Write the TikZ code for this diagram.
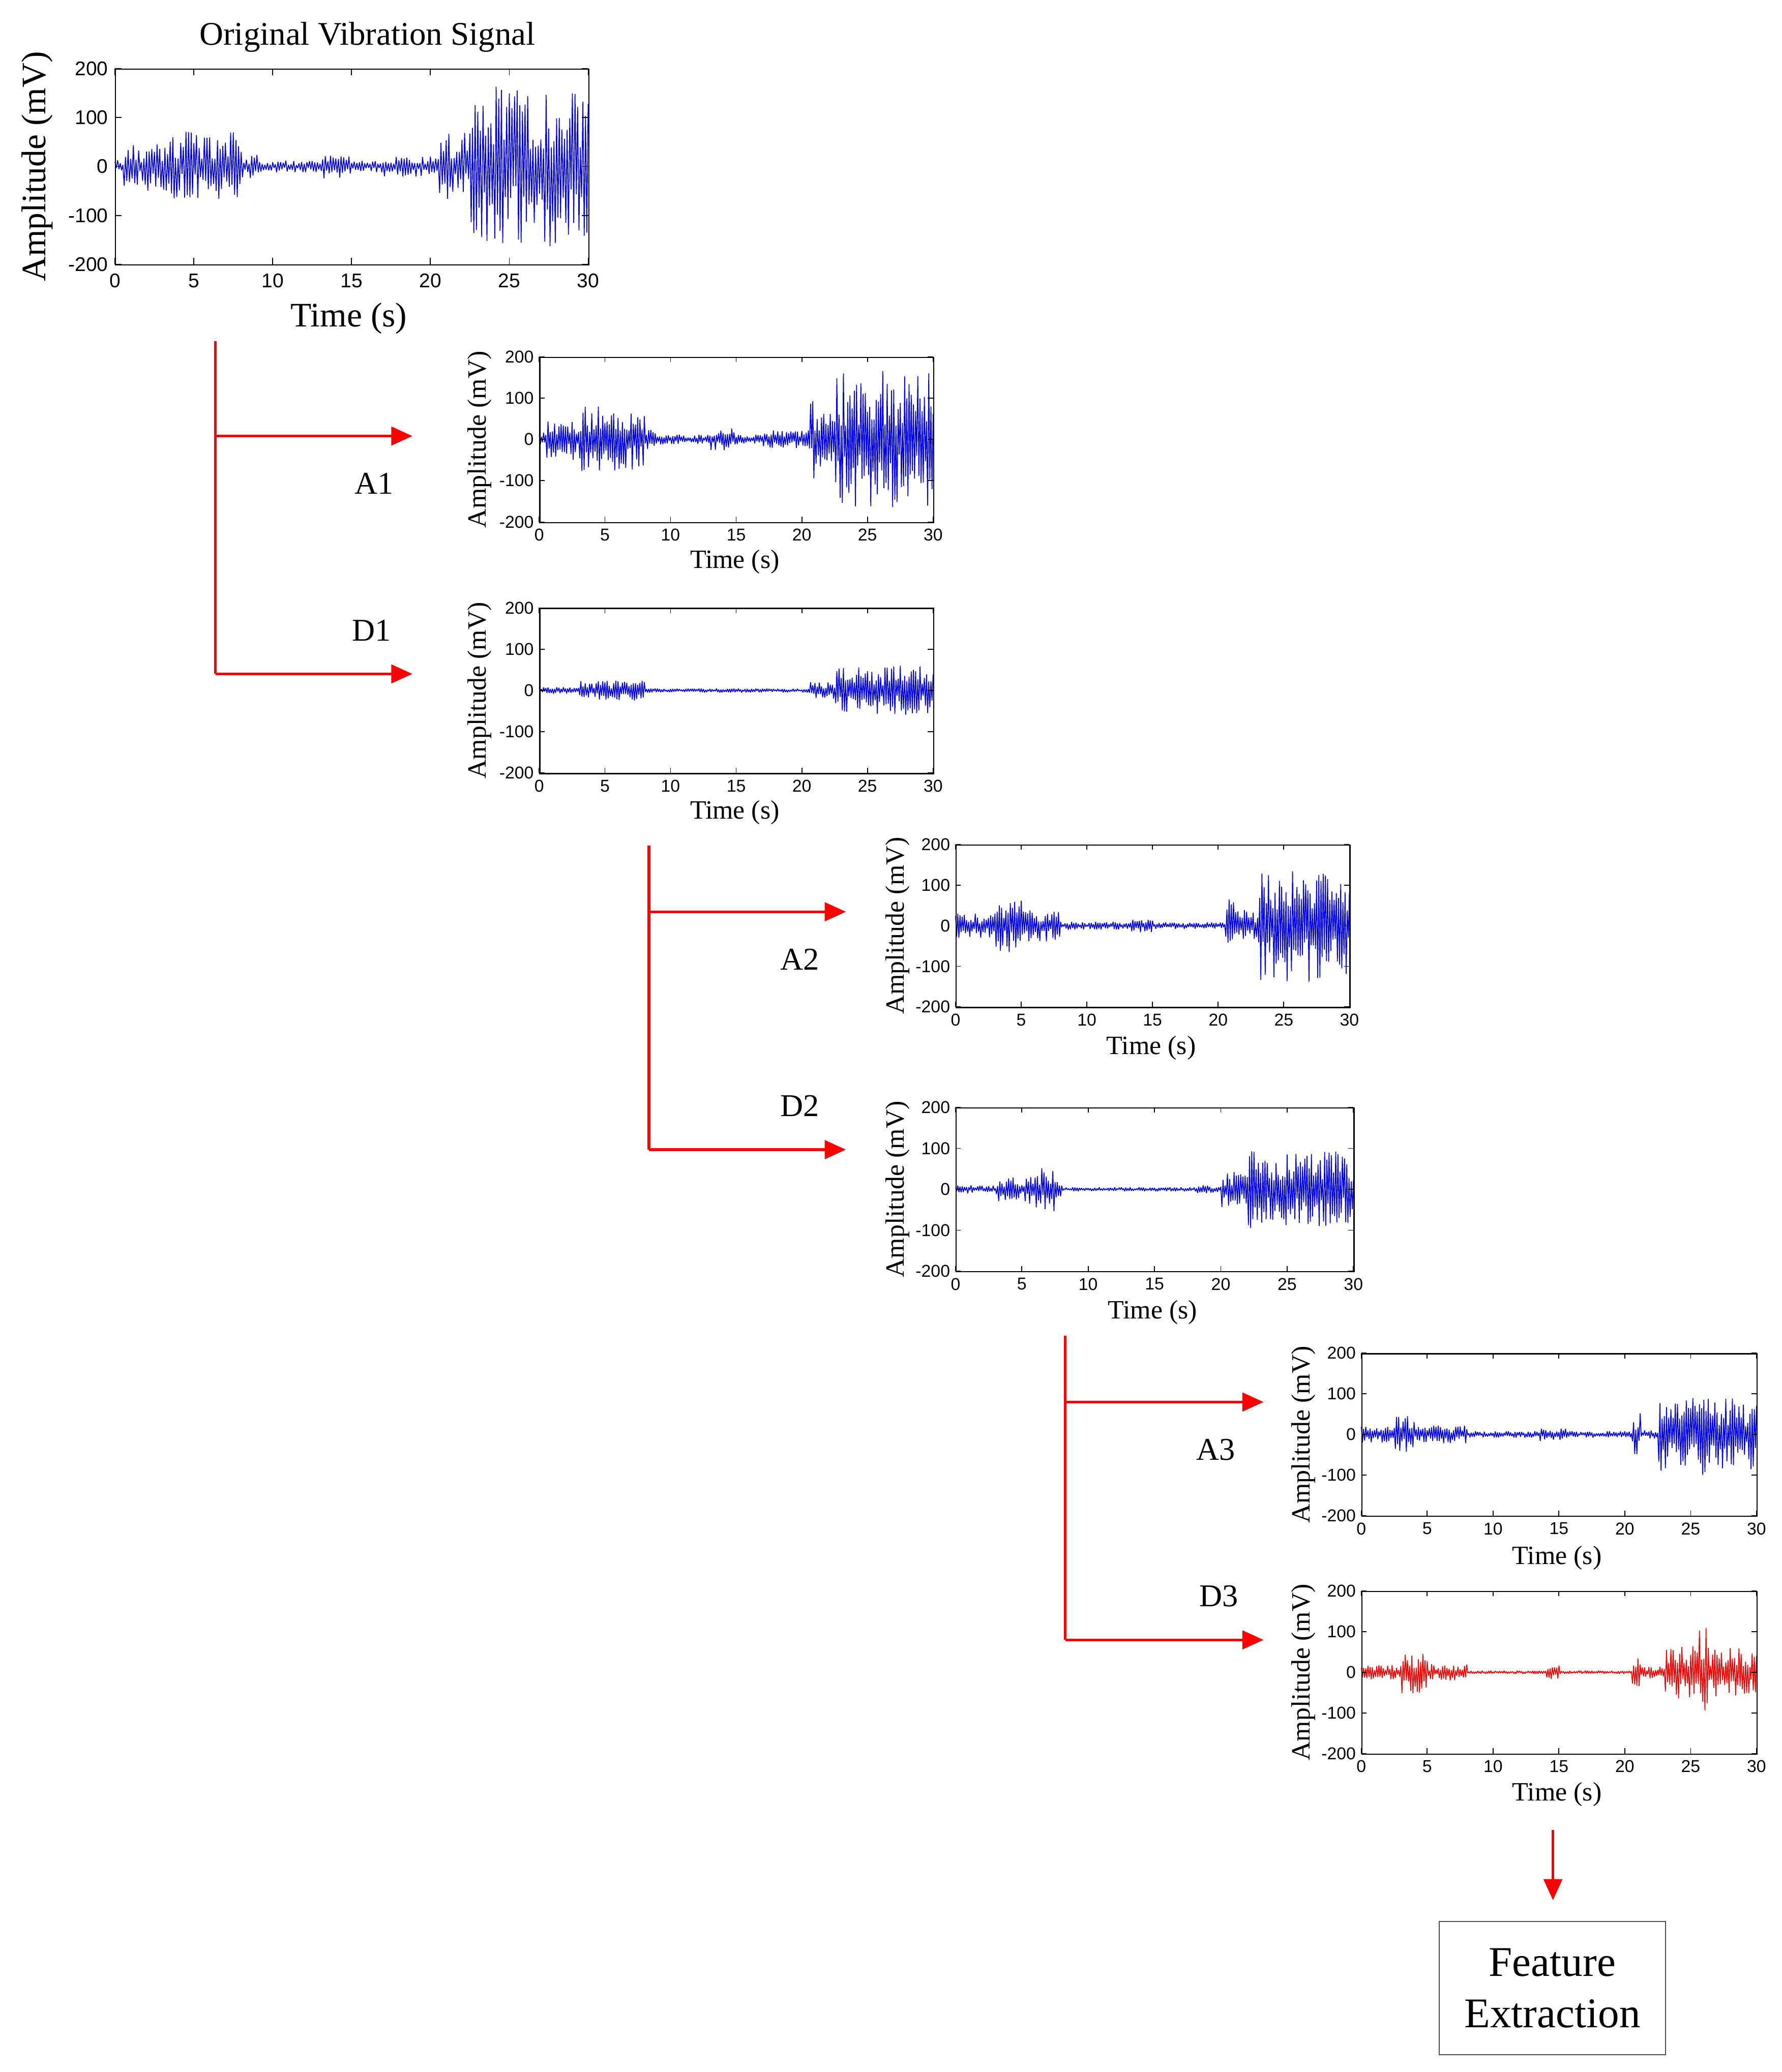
\documentclass[tikz,border=0pt]{standalone}
\usepackage{fontspec}
\setmainfont{Liberation Serif}
\newfontfamily\tickfont{Liberation Sans}
\usetikzlibrary{arrows.meta}
\definecolor{sigblue}{RGB}{0,0,255}
\definecolor{sigred}{RGB}{255,0,0}
\def\tfs{13}
\def\tickl{4}
\def\xoff{2}
\def\yoff{2}
\newcommand\SigPlot[7]{%
  \pgfmathsetmacro\pW{#4-#2}%
  \pgfmathsetmacro\pH{#5-#3}%
  \pgfmathsetmacro\pM{(#3+#5)/2}%
  \draw[signal, #6] plot[samples=361, domain=0:360, variable=\i]
     ({#2+\pW*(\i/360)}, {\pM-#7(\i/12)*(\pH/400)*(1-2*mod(round(\i),2))*(0.2+0.8*rnd)});
  \node[axbox, minimum width=\pW pt, minimum height=\pH pt, anchor=north west] (#1) at (#2,#3) {};
  \foreach \k in {0,...,6}{%
    \pgfmathsetmacro\xx{#2+\k*\pW/6}%
    \pgfmathtruncatemacro\lab{5*\k}%
    \draw[axline] (\xx,#5) -- ++(0,-\tickl) (\xx,#3) -- ++(0,\tickl);
    \node[ticklab, anchor=north] (#1x\k) at (\xx,#5+\xoff) {\lab};
  }
  \foreach \k in {0,...,4}{%
    \pgfmathsetmacro\yy{#3+\k*\pH/4}%
    \pgfmathtruncatemacro\lab{200-100*\k}%
    \draw[axline] (#2,\yy) -- ++(\tickl,0) (#4,\yy) -- ++(-\tickl,0);
    \node[ticklab, anchor=east] (#1y\k) at (#2-\yoff,\yy) {\lab};
  }%
}
\begin{document}
\begin{tikzpicture}[x=1pt,y=-1pt,
  signal/.style={line width=0.65pt, line join=bevel},
  axbox/.style={draw=black, line width=0.9pt, inner sep=0pt, fill=none},
  axline/.style={draw=black, line width=0.7pt},
  ticklab/.style={inner sep=0pt, font=\tickfont\fontsize{\tfs}{\tfs}\selectfont},
  biglab/.style={inner sep=0pt, font=\fontsize{26}{30}\selectfont},
  smalllab/.style={inner sep=0pt, font=\fontsize{20}{24}\selectfont},
  branchlab/.style={inner sep=0pt, font=\fontsize{24}{28}\selectfont},
  redline/.style={draw=sigred, line width=2pt},
  redarrow/.style={draw=sigred, line width=2pt, -{Triangle[length=16pt,width=14pt]}},
  declare function={
    envO(\t)=15+(\t>0.5)*30+(\t>2)*5+(\t>3)*25+(\t>8)*(-50)+(\t>9)*(-13)+(\t>13)*13+(\t>15)*(-13)+(\t>17)*10+(\t>20.5)*73+(\t>21.2)*(-25)+(\t>22.5)*95;
    envAa(\t)=18+(\t>0.5)*27+(\t>2)*5+(\t>3)*30+(\t>8)*(-55)+(\t>9)*(-13)+(\t>13)*15+(\t>15)*(-15)+(\t>17)*10+(\t>20.5)*73+(\t>21.2)*(-25)+(\t>22.5)*95;
    envDa(\t)=8+(\t>3)*17+(\t>8)*(-20)+(\t>20.5)*15+(\t>22.5)*40;
    envAb(\t)=30+(\t>3)*35+(\t>5)*(-25)+(\t>8)*(-30)+(\t>13)*8+(\t>15)*(-10)+(\t>20.5)*57+(\t>21.2)*(-25)+(\t>23)*100;
    envDb(\t)=10+(\t>3)*20+(\t>5.5)*25+(\t>7.5)*(-35)+(\t>8)*(-15)+(\t>18)*5+(\t>20)*35+(\t>22)*50;
    envAc(\t)=20+(\t>2.5)*25+(\t>4)*(-23)+(\t>8)*(-14)+(\t>13.5)*8+(\t>15.5)*(-8)+(\t>20.5)*50+(\t>21.2)*(-48)+(\t>22.5)*80+(\t>25.5)*30+(\t>27)*(-30);
    envDc(\t)=18+(\t>3)*37+(\t>5)*(-35)+(\t>8)*(-16)+(\t>14)*13+(\t>15)*(-13)+(\t>20.5)*40+(\t>21.2)*(-29)+(\t>23)*50+(\t>25.5)*60+(\t>26.3)*(-65);
  }]
\useasboundingbox (0,0) rectangle (1348,1568);
\pgfmathsetseed{4242}
% ---- original signal
\def\tfs{15}\def\tickl{5}\def\xoff{7}\def\yoff{5}
\SigPlot{orig}{87}{52}{445}{200}{sigblue}{envO}
\node[biglab, font=\fontsize{25}{30}\selectfont] (title) at (278,28) {Original Vibration Signal};
\node[biglab, rotate=90] (origylab) at (28,126) {Amplitude (mV)};
\node[biglab] (origxlab) at (264,241) {Time (s)};
% ---- level 1
\def\tfs{13}\def\tickl{4}\def\xoff{5}\def\yoff{4}
\SigPlot{aone}{408}{270}{706}{395}{sigblue}{envAa}
\node[smalllab, rotate=90] (aoneylab) at (363,332.5) {Amplitude (mV)};
\node[smalllab] (aonexlab) at (556,425) {Time (s)};
\SigPlot{done}{408}{460}{706}{585}{sigblue}{envDa}
\node[smalllab, rotate=90] (doneylab) at (363,522.5) {Amplitude (mV)};
\node[smalllab] (donexlab) at (556,615) {Time (s)};
% ---- level 2
\SigPlot{atwo}{723}{639}{1021}{762}{sigblue}{envAb}
\node[smalllab, rotate=90] (atwoylab) at (679,700.5) {Amplitude (mV)};
\node[smalllab] (atwoxlab) at (871,793) {Time (s)};
\SigPlot{dtwo}{723}{838}{1024}{962}{sigblue}{envDb}
\node[smalllab, rotate=90] (dtwoylab) at (679,900) {Amplitude (mV)};
\node[smalllab] (dtwoxlab) at (872,993) {Time (s)};
% ---- level 3
\SigPlot{athree}{1030}{1024}{1329}{1147}{sigblue}{envAc}
\node[smalllab, rotate=90] (athreeylab) at (986,1085.5) {Amplitude (mV)};
\node[smalllab] (athreexlab) at (1178,1179) {Time (s)};
\SigPlot{dthree}{1030}{1204}{1329}{1327}{sigred}{envDc}
\node[smalllab, rotate=90] (dthreeylab) at (986,1265.5) {Amplitude (mV)};
\node[smalllab] (dthreexlab) at (1178,1358) {Time (s)};
% ---- branch labels
\node[branchlab] (labAone) at (283,366) {A1};
\node[branchlab] (labDone) at (281,477) {D1};
\node[branchlab] (labAtwo) at (605,726) {A2};
\node[branchlab] (labDtwo) at (605,837) {D2};
\node[branchlab] (labAthree) at (920,1097) {A3};
\node[branchlab] (labDthree) at (922,1208) {D3};
% ---- tree connectors
\coordinate (tonetop) at (163,258);
\coordinate (tonea) at (163,330);
\coordinate (toned) at (163,510);
\coordinate (aonetip) at (312,330);
\coordinate (donetip) at (312,510);
\draw[redline] (tonetop) -- (toned);
\draw[redarrow] (tonea) -- (aonetip);
\draw[redarrow] (toned) -- (donetip);
\coordinate (ttwotop) at (491,640);
\coordinate (ttwoa) at (491,690);
\coordinate (ttwod) at (491,870);
\coordinate (atwotip) at (640,690);
\coordinate (dtwotip) at (640,870);
\draw[redline] (ttwotop) -- (ttwod);
\draw[redarrow] (ttwoa) -- (atwotip);
\draw[redarrow] (ttwod) -- (dtwotip);
\coordinate (tthreetop) at (806,1011);
\coordinate (tthreea) at (806,1061);
\coordinate (tthreed) at (806,1241);
\coordinate (athreetip) at (956,1061);
\coordinate (dthreetip) at (956,1241);
\draw[redline] (tthreetop) -- (tthreed);
\draw[redarrow] (tthreea) -- (athreetip);
\draw[redarrow] (tthreed) -- (dthreetip);
% ---- feature extraction
\coordinate (downstart) at (1175,1385);
\node[draw=black!70, line width=0.8pt, minimum width=171pt, minimum height=101pt, inner sep=0pt,
      align=center, font=\fontsize{32}{39}\selectfont] (feat) at (1174.5,1504.5) {Feature\\Extraction};
\coordinate (downtip) at (1175,1438);
\draw[redarrow] (downstart) -- (downtip);
\end{tikzpicture}
\end{document}
